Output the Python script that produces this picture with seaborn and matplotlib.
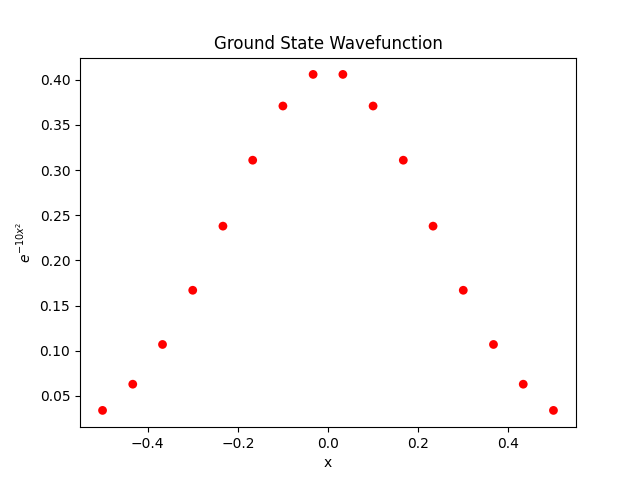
import matplotlib
matplotlib.use("Agg")
import matplotlib.pyplot as plt
import seaborn as sns

x_vals = [-0.5, -0.433, -0.367, -0.3, -0.233, -0.167, -0.1, -0.033,
          0.033, 0.1, 0.167, 0.233, 0.3, 0.367, 0.433, 0.5]
y_vals = [0.034, 0.063, 0.107, 0.167, 0.238, 0.311, 0.371, 0.406,
          0.406, 0.371, 0.311, 0.238, 0.167, 0.107, 0.063, 0.034]

fig, ax = plt.subplots(figsize=(6.4, 4.8), dpi=100)
sns.scatterplot(x=x_vals, y=y_vals, color="red", s=40, edgecolor="none", ax=ax)
ax.set_title("Ground State Wavefunction")
ax.set_xlabel("x")
ax.set_ylabel(r"$e^{-10x^2}$")
ax.set_yticks([0.05, 0.10, 0.15, 0.20, 0.25, 0.30, 0.35, 0.40])
ax.set_yticklabels(["0.05", "0.10", "0.15", "0.20", "0.25", "0.30", "0.35", "0.40"])
fig.savefig("out.png", dpi=100)
